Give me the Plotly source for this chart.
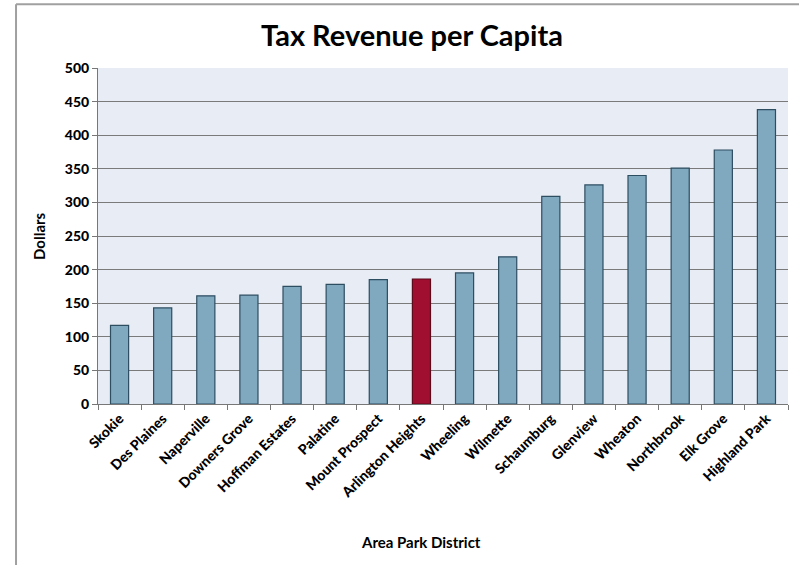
import plotly.graph_objects as go

districts = ["Skokie", "Des Plaines", "Naperville", "Downers Grove", "Hoffman Estates",
             "Palatine", "Mount Prospect", "Arlington Heights", "Wheeling", "Wilmette",
             "Schaumburg", "Glenview", "Wheaton", "Northbrook", "Elk Grove", "Highland Park"]
revenue = [117, 143, 161, 162, 175, 178, 185, 186, 195, 219, 309, 326, 340, 351, 378, 438]
highlight = "Arlington Heights"

fills = ["#A00F2F" if d == highlight else "#80A9C0" for d in districts]
edges = ["#5A0A1A" if d == highlight else "#2D4D61" for d in districts]

font_family = "Lato, 'Open Sans', sans-serif"

fig = go.Figure(go.Bar(
    x=districts, y=revenue,
    marker=dict(color=fills, line=dict(color=edges, width=1.2)),
))

fig.update_layout(
    width=799, height=565,
    margin=dict(l=98, r=11, t=68, b=161),
    paper_bgcolor="white",
    plot_bgcolor="#E8ECF4",
    bargap=0.58,
    showlegend=False,
    font=dict(family=font_family, color="black"),
    annotations=[
        dict(text="<b>Tax Revenue per Capita</b>", xref="paper", yref="paper",
             x=0.455, y=1, yshift=34, showarrow=False, xanchor="center", yanchor="middle",
             font=dict(size=29, family=font_family, weight=900)),
        dict(text="<b>Area Park District</b>", xref="paper", yref="paper",
             x=0.468, y=0, yshift=-138, showarrow=False, xanchor="center", yanchor="middle",
             font=dict(size=15, family=font_family, weight=900)),
        dict(text="<b>Dollars</b>", xref="paper", yref="paper",
             x=0, xshift=-59, y=0.5, showarrow=False, textangle=-90,
             xanchor="center", yanchor="middle",
             font=dict(size=15, family=font_family, weight=900)),
    ],
    shapes=[
        dict(type="line", xref="paper", yref="paper", x0=-0.1188, x1=1.02, y0=1.19, y1=1.19,
             line=dict(color="#A0A0A0", width=2)),
        dict(type="line", xref="paper", yref="paper", x0=-0.1188, x1=-0.1188, y0=1.19, y1=-0.5,
             line=dict(color="#A0A0A0", width=2)),
    ],
)

fig.update_xaxes(
    tickangle=-45, tickson="boundaries", ticks="outside", ticklen=5, tickcolor="#777",
    showline=True, linecolor="#777", linewidth=1, showgrid=False,
    tickfont=dict(size=14, family=font_family, weight=900),
)
fig.update_yaxes(
    range=[0, 500], dtick=50, ticks="outside", ticklen=5, tickcolor="#777",
    showline=True, linecolor="#777", linewidth=1,
    showgrid=True, gridcolor="#7A7A7A", gridwidth=1, zeroline=False,
    tickfont=dict(size=14, family=font_family, weight=900),
)

fig.write_html("out.html")
